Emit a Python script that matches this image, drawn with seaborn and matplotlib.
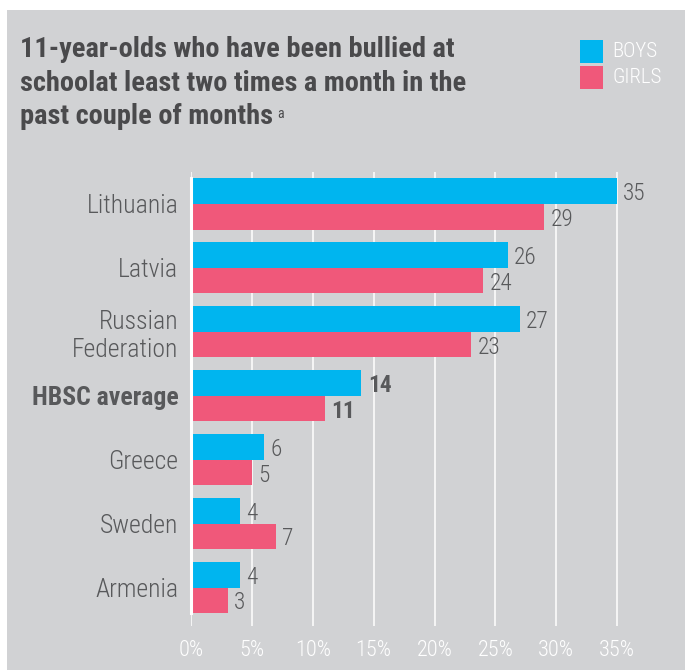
import pandas as pd
import seaborn as sns
import matplotlib.pyplot as plt
from matplotlib import font_manager
from matplotlib.patches import Rectangle

countries = ['Lithuania', 'Latvia', 'Russian\nFederation', 'HBSC average',
             'Greece', 'Sweden', 'Armenia']
boys = [35, 26, 27, 14, 6, 4, 4]
girls = [29, 24, 23, 11, 5, 7, 3]
ticks = [0, 5, 10, 15, 20, 25, 30, 35]

BLUE = '#00b5ef'
PINK = '#f0587a'
BG = '#d1d2d4'
DARK = '#58595b'

# pick a narrow face if one is installed
installed = {f.name for f in font_manager.fontManager.ttflist}
candidates = ['Roboto Condensed', 'Liberation Sans Narrow', 'Open Sans Condensed',
              'Noto Sans Condensed', 'DejaVu Sans Condensed', 'Roboto']
family = next((c for c in candidates if c in installed), 'DejaVu Sans')
narrow = family != 'Roboto'

sns.set_style('white')
plt.rcParams['font.family'] = [family, 'DejaVu Sans']

k = 1.0 if narrow else 0.8   # shrink a regular face to keep the widths
fs_title = 20.4 * k
fs_cat = 18.5 * k
fs_val = 16.8 * k
fs_tick = 16 * k
LIGHT = 'light'

df = pd.DataFrame({'country': countries * 2,
                   'value': boys + girls,
                   'sex': ['BOYS'] * len(boys) + ['GIRLS'] * len(girls)})

W, H = 685, 670
fig = plt.figure(figsize=(W / 100, H / 100), dpi=100)
fig.patches.append(Rectangle((7 / W, 0), 1, 1 - 10 / H, transform=fig.transFigure,
                             facecolor=BG, edgecolor='none', zorder=-10))

ax = fig.add_axes([191 / W, 1 - 626 / H, 487 / W, 454 / H])
ax.set_facecolor('none')
sns.barplot(data=df, x='value', y='country', hue='sex', order=countries,
            palette=[BLUE, PINK], saturation=1, orient='h', width=0.8, ax=ax,
            legend=False, zorder=3, linewidth=0)

ax.set_xlim(0, 40)
ax.set_ylim(6.6, -0.5)
ax.set_xticks(ticks)
ax.set_xticklabels([f'{t}%' for t in ticks], fontweight=LIGHT)
ax.grid(axis='x', color='white', linewidth=1.1, zorder=1)
ax.grid(axis='y', visible=False)
ax.set_axisbelow(True)
for s in ['top', 'right', 'bottom']:
    ax.spines[s].set_visible(False)
ax.spines['left'].set_color('white')
ax.spines['left'].set_linewidth(2.2)
ax.spines['left'].set_bounds(-0.4, 6.4)
ax.spines['left'].set_zorder(4)
ax.tick_params(axis='x', length=0, pad=10, labelsize=fs_tick, labelcolor='white')
ax.tick_params(axis='y', length=0, pad=9, labelsize=fs_cat, labelcolor=DARK)
ax.set_xlabel('')
ax.set_ylabel('')
for lab in ax.get_yticklabels():
    lab.set_horizontalalignment('right')
    lab.set_fontweight('bold' if lab.get_text() == 'HBSC average' else LIGHT)

for i, c in enumerate(countries):
    weight = 'bold' if c == 'HBSC average' else LIGHT
    for val, off in [(boys[i], -0.2), (girls[i], 0.2)]:
        ax.annotate(str(val), (val, i + off), xytext=(4.5, 0), textcoords='offset points',
                    va='center_baseline', ha='left', fontsize=fs_val, color=DARK,
                    fontweight=weight)

title_lines = ['11-year-olds who have been bullied at',
               'schoolat least two times a month in the',
               'past couple of months']
last = None
for line, yb in zip(title_lines, [57, 91, 124]):
    last = fig.text(20 / W, 1 - yb / H, line, fontsize=fs_title, fontweight='bold',
                    color='#4a4a4c', va='baseline', ha='left')
ax.annotate('a', xy=(1, 0), xycoords=last, xytext=(3, 9), textcoords='offset points',
            fontsize=10, color='#4a4a4c', va='baseline', ha='left', annotation_clip=False)

for label, color, y0 in [('BOYS', BLUE, 40), ('GIRLS', PINK, 66)]:
    fig.patches.append(Rectangle((580 / W, 1 - (y0 + 23) / H), 23 / W, 23 / H,
                                 transform=fig.transFigure, facecolor=color,
                                 edgecolor='none', zorder=2))
    fig.text(612 / W, 1 - (y0 + 11.5) / H, label, fontsize=15 * k, color='white',
             va='center', ha='left', fontweight=LIGHT)

fig.savefig('out.png', dpi=100)
